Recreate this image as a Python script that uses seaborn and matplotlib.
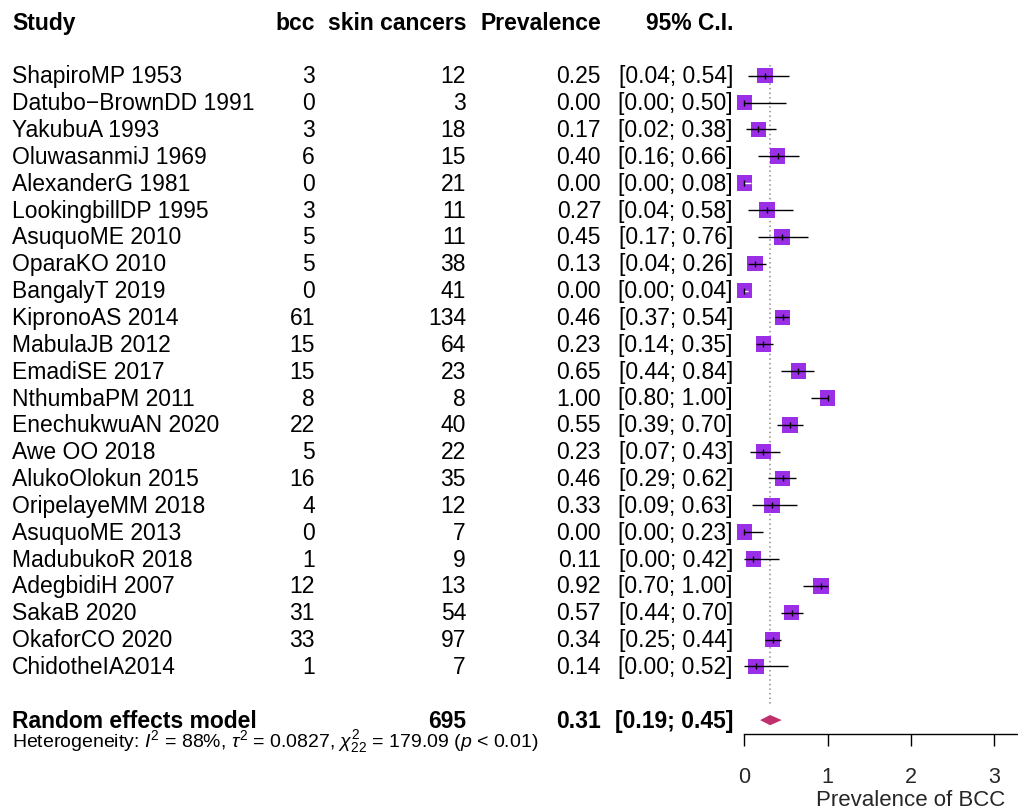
import numpy as np
import pandas as pd
import matplotlib
matplotlib.use("Agg")
import matplotlib.pyplot as plt
import matplotlib.transforms as mtransforms
import seaborn as sns

# ---------------- data ----------------
studies = ["ShapiroMP 1953", "Datubo\u2212BrownDD 1991", "YakubuA 1993", "OluwasanmiJ 1969",
           "AlexanderG 1981", "LookingbillDP 1995", "AsuquoME 2010", "OparaKO 2010",
           "BangalyT 2019", "KipronoAS 2014", "MabulaJB 2012", "EmadiSE 2017",
           "NthumbaPM 2011", "EnechukwuAN 2020", "Awe OO 2018", "AlukoOlokun 2015",
           "OripelayeMM 2018", "AsuquoME 2013", "MadubukoR 2018", "AdegbidiH 2007",
           "SakaB 2020", "OkaforCO 2020", "ChidotheIA2014"]
bcc = [3, 0, 3, 6, 0, 3, 5, 5, 0, 61, 15, 15, 8, 22, 5, 16, 4, 0, 1, 12, 31, 33, 1]
skin = [12, 3, 18, 15, 21, 11, 11, 38, 41, 134, 64, 23, 8, 40, 22, 35, 12, 7, 9, 13, 54, 97, 7]
prev = [0.25, 0.00, 0.17, 0.40, 0.00, 0.27, 0.45, 0.13, 0.00, 0.46, 0.23, 0.65,
        1.00, 0.55, 0.23, 0.46, 0.33, 0.00, 0.11, 0.92, 0.57, 0.34, 0.14]
lower = [0.04, 0.00, 0.02, 0.16, 0.00, 0.04, 0.17, 0.04, 0.00, 0.37, 0.14, 0.44,
         0.80, 0.39, 0.07, 0.29, 0.09, 0.00, 0.00, 0.70, 0.44, 0.25, 0.00]
upper = [0.54, 0.50, 0.38, 0.66, 0.08, 0.58, 0.76, 0.26, 0.04, 0.54, 0.35, 0.84,
         1.00, 0.70, 0.43, 0.62, 0.63, 0.23, 0.42, 1.00, 0.70, 0.44, 0.52]
pooled_n = 695
pooled_est = 0.31
pooled_lo = 0.19
pooled_hi = 0.45
headers = ["Study", "bcc", "skin cancers", "Prevalence", "95% C.I."]
het_text = (r"Heterogeneity: $I^2$ = 88%, $\tau^2$ = 0.0827, "
            r"$\chi^2_{22}$ = 179.09 ($p$ < 0.01)")
xticks = [0, 1, 2, 3]
xlabel = "Prevalence of BCC"

df = pd.DataFrame({"study": studies, "bcc": bcc, "n": skin, "prev": prev,
                   "lo": lower, "hi": upper})
df["row"] = np.arange(len(df))

# ---------------- style ----------------
sns.set_style("white")
plt.rcParams["font.family"] = ["Liberation Sans", "DejaVu Sans"]
plt.rcParams["mathtext.fontset"] = "custom"
plt.rcParams["mathtext.rm"] = "Liberation Sans"
plt.rcParams["mathtext.it"] = "Liberation Sans:italic"
plt.rcParams["mathtext.bf"] = "Liberation Sans:bold"

W, H = 1018, 809
fig = plt.figure(figsize=(W / 100, H / 100), dpi=100)
fig.patch.set_facecolor("white")

x0_px, unit_px = 744.3, 83.2
spine_px = 734
ax = fig.add_axes([x0_px / W, (H - spine_px) / H, 4 * unit_px / W, spine_px / H])
ax.set_facecolor("none")

row0_px, row_px = 75.7, 26.85
ax.set_xlim(0, 4)
ax.set_ylim((spine_px - row0_px) / row_px, -row0_px / row_px)

square_col = "#9b2fe8"
diamond_col = "#c0306a"

# reference line at pooled estimate
ax.vlines(pooled_est, -0.4, 23.45, colors="#8c8c8c", linestyles=(0, (1, 2)),
          linewidth=1.1, zorder=1)

# squares
sns.scatterplot(data=df, x="prev", y="row", marker="s", s=125, color=square_col,
                edgecolor="none", linewidth=0, ax=ax, legend=False, zorder=2,
                clip_on=False)

# CI lines (white when inside the square)
half_sq = 7.1 / unit_px
inside = (df["prev"] - df["lo"] <= half_sq) & (df["hi"] - df["prev"] <= half_sq)
for idx, r in df.iterrows():
    col = "white" if inside[idx] else "black"
    ax.hlines(r["row"], r["lo"], r["hi"], colors=col, linewidth=1.0, zorder=3,
              clip_on=False)
ax.scatter(df["prev"], df["row"], marker="|", s=18, color="black", linewidths=1.0,
           zorder=4, clip_on=False)

# pooled diamond
dh = 0.19
ax.fill([pooled_lo, pooled_est, pooled_hi, pooled_est],
        [24, 24 - dh, 24, 24 + dh], color=diamond_col, lw=0, zorder=3)

# axis styling
for s in ["left", "top", "right"]:
    ax.spines[s].set_visible(False)
ax.spines["bottom"].set_color("black")
ax.spines["bottom"].set_linewidth(1.0)
ax.set_yticks([])
ax.set_ylabel("")
ax.set_xticks(xticks)
ax.set_xticklabels([str(t) for t in xticks])
ax.tick_params(axis="x", direction="out", length=12 / 1.389, width=1.0, color="black",
               pad=15, labelsize=15.5, bottom=True)
ax.set_xlabel(xlabel, fontsize=16)
ax.xaxis.set_label_coords(0.5, -(789.5 - spine_px) / spine_px)

# ---------------- text columns ----------------
trans = mtransforms.blended_transform_factory(fig.transFigure, ax.transData)
base_off = 7.6 / row_px
fs = 16.5

col_x = {"study": 12, "bcc": 315, "n": 466, "prev": 601, "ci": 733}


def put(xpx, row, s, ha, bold=False, size=fs):
    ax.text(xpx / W, row + base_off, s, transform=trans, ha=ha, va="baseline",
            fontsize=size, fontweight="bold" if bold else "normal", color="black")


put(col_x["study"], -2, headers[0], "left", True)
put(col_x["bcc"], -2, headers[1], "right", True)
put(col_x["n"], -2, headers[2], "right", True)
put(col_x["prev"], -2, headers[3], "right", True)
put(col_x["ci"], -2, headers[4], "right", True)

for i, r in df.iterrows():
    put(col_x["study"], i, r["study"], "left")
    put(col_x["bcc"], i, f"{r['bcc']}", "right")
    put(col_x["n"], i, f"{r['n']}", "right")
    put(col_x["prev"], i, f"{r['prev']:.2f}", "right")
    put(col_x["ci"], i, f"[{r['lo']:.2f}; {r['hi']:.2f}]", "right")

put(col_x["study"], 24, "Random effects model", "left", True)
put(col_x["n"], 24, f"{pooled_n}", "right", True)
put(col_x["prev"], 24, f"{pooled_est:.2f}", "right", True)
put(col_x["ci"], 24, f"[{pooled_lo:.2f}; {pooled_hi:.2f}]", "right", True)

ax.text(12 / W, 25.0, het_text, transform=trans, ha="left", va="baseline",
        fontsize=14, color="black")

fig.savefig("out.png", dpi=100, facecolor="white")
